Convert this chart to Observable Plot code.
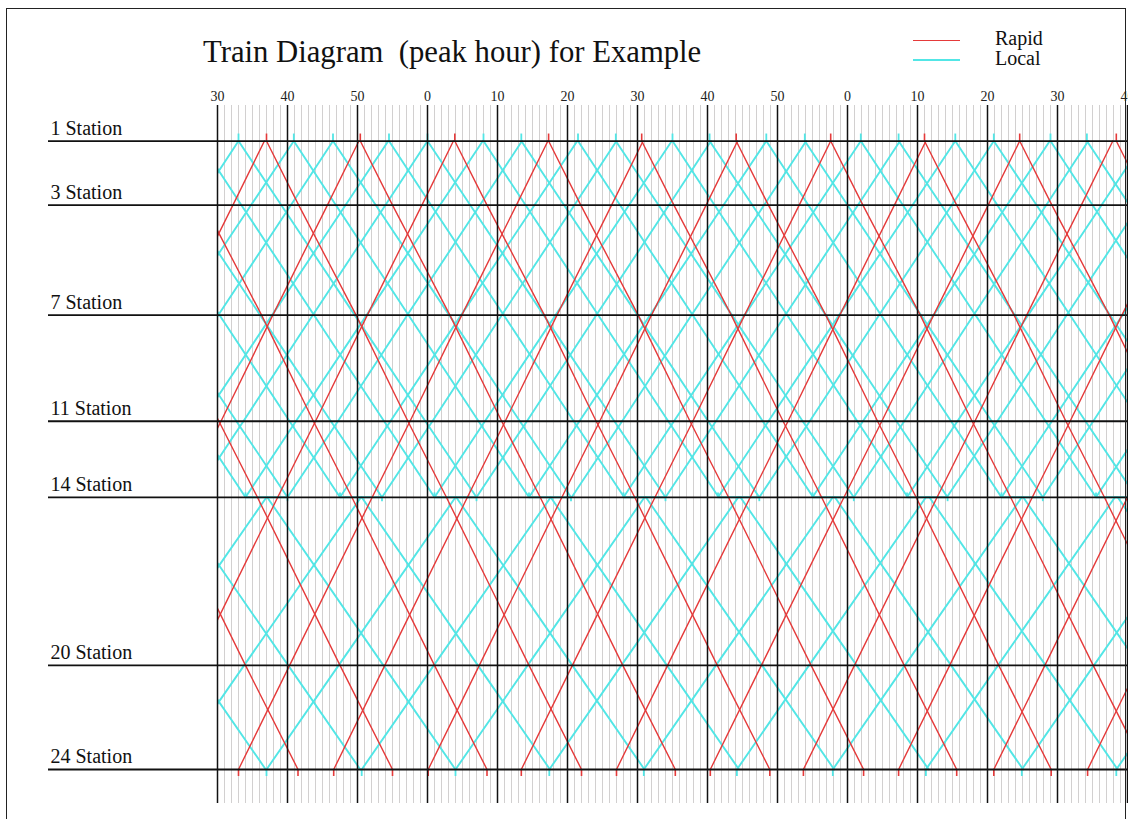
<!DOCTYPE html>
<html>
<head>
<meta charset="utf-8">
<script src="https://cdn.jsdelivr.net/npm/d3@7"></script>
<script src="https://cdn.jsdelivr.net/npm/@observablehq/plot@0.6"></script>
<style>
  html, body { margin:0; padding:0; background:#fff; overflow:hidden; }
  #wrap { position:relative; width:1128px; height:819px; font-family:"Liberation Serif","Times New Roman",serif; color:#111; }
  #header { position:relative; width:1128px; height:75px; }
  #title { position:absolute; left:203px; top:37px; font-size:30.7px; line-height:30px; white-space:pre; }
  .lg-line { position:absolute; left:913px; width:47px; height:0; }
  .lg-text { position:absolute; left:995px; font-size:20px; line-height:20px; }
  #frame { position:absolute; left:6px; top:8px; width:1120px; height:840px; border:1.5px solid #222; box-sizing:border-box; pointer-events:none; }
  #chart svg { display:block; }
</style>
</head>
<body>
<div id="wrap">
  <div id="header">
    <div id="title">Train Diagram  (peak hour) for Example</div>
    <div class="lg-line" style="top:40px;border-top:1.5px solid #e53a3a"></div>
    <div class="lg-text" style="top:28px">Rapid</div>
    <div class="lg-line" style="top:59px;border-top:2px solid #52e6e6"></div>
    <div class="lg-text" style="top:48px">Local</div>
  </div>
  <div id="chart"></div>
  <div id="frame"></div>
</div>
<script>
// ---------- data ----------
const stationNames = ["1 Station", "3 Station", "7 Station", "11 Station", "14 Station", "20 Station", "24 Station"];
const stationKm    = [0, 3.2, 8.7, 14.0, 17.8, 26.2, 31.4];

// time axis: minutes (30 = hh:30 of the first hour)
const majorTicks = [30, 40, 50, 60, 70, 80, 90, 100, 110, 120, 130, 140, 150, 160];
const tickLabels = ["30", "40", "50", "0", "10", "20", "30", "40", "50", "0", "10", "20", "30", "40"];

// Rapid, down (1 -> 24): departure at 1 Station, minutes after departure at each station
const rapidDownDepart = [-3.5, 10.0, 23.5, 37.0, 50.4, 63.9, 77.3, 90.6, 104.1, 117.6, 131.0, 144.6, 158.4];
const rapidDownStops  = [0, 1, 2, 3, 4, 5, 6];
const rapidDownRun    = [0, 4.6, 12.8, 20.2, 25.7, 37.5, 45.0];

// Rapid, up (24 -> 1): departure at 24 Station
const rapidUpDepart = [-7.5, 6.0, 19.5, 33.0, 46.6, 60.1, 73.4, 87.0, 100.4, 113.7, 127.3, 140.9, 154.3];
const rapidUpStops  = [6, 5, 4, 3, 2, 1, 0];
const rapidUpRun    = [0, 7.3, 19.1, 24.5, 31.9, 39.7, 44.2];

// Local through trains 1 -> 24 (stop at 14 Station)
const localThroughDownDepart = [-26.7, -13.2, 0.4, 13.9, 27.4, 40.9, 54.5, 68.0, 81.5, 95.0, 108.4, 121.9, 135.4, 149.0];
const localThroughDownStops  = [0, 1, 2, 3, 4, 4, 5, 6];
const localThroughDownRun    = [0, 6.0, 16.4, 26.4, 33.6, 36.7, 53.3, 63.6];

// Local through trains 24 -> 1
const localThroughUpDepart = [-30.5, -17.0, -3.5, 10.0, 23.5, 37.0, 50.6, 64.0, 77.4, 90.9, 104.2, 117.9, 131.2, 144.9, 158.4];
const localThroughUpStops  = [6, 5, 4, 4, 3, 2, 1, 0];
const localThroughUpRun    = [0, 10.3, 27.0, 30.0, 37.2, 47.1, 57.5, 63.5];

// Local short trains 1 -> 14
const localShortDownDepart = [6.0, 19.5, 33.0, 46.5, 60.0, 73.4, 86.9, 100.3, 113.9, 127.3, 140.9, 154.2];
const localShortDownStops  = [0, 1, 2, 3, 4];
const localShortDownRun    = [0, 6.1, 16.6, 26.7, 34.0];

// Local short trains 14 -> 1
const localShortUpDepart = [7.0, 20.5, 34.0, 47.5, 61.0, 74.5, 88.0, 101.5, 115.0, 128.5, 142.0, 155.5];
const localShortUpStops  = [4, 3, 2, 1, 0];
const localShortUpRun    = [0, 7.2, 17.3, 27.8, 33.9];

const COL_RAPID = "#e53a3a";
const COL_LOCAL = "#52e6e6";

// ---------- build tables ----------
function buildRuns(name, departs, stops, runs) {
  const pts = [];
  departs.forEach((dep, j) => {
    stops.forEach((s, i) => pts.push({id: name + "-" + j, t: dep + runs[i], km: stationKm[s]}));
  });
  return pts;
}
const rapidPts = [
  ...buildRuns("rd", rapidDownDepart, rapidDownStops, rapidDownRun),
  ...buildRuns("ru", rapidUpDepart, rapidUpStops, rapidUpRun)
];
const localPts = [
  ...buildRuns("ltd", localThroughDownDepart, localThroughDownStops, localThroughDownRun),
  ...buildRuns("ltu", localThroughUpDepart, localThroughUpStops, localThroughUpRun),
  ...buildRuns("lsd", localShortDownDepart, localShortDownStops, localShortDownRun),
  ...buildRuns("lsu", localShortUpDepart, localShortUpStops, localShortUpRun)
];
const kmFirst = stationKm[0], kmLast = stationKm[stationKm.length - 1], kmTurn = stationKm[4];
const rapidEnds = [
  ...rapidDownDepart.map(t => ({t, km: kmFirst, len: -0.35})),
  ...rapidUpDepart.map(t => ({t, km: kmLast, len: 0.35})),
  ...rapidDownDepart.map(t => ({t: t + rapidDownRun[rapidDownRun.length - 1], km: kmLast, len: 0.35}))
];
const localEnds = [
  ...localShortDownDepart.map(t => ({t, km: kmFirst, len: -0.35})),
  ...localThroughDownDepart.map(t => ({t, km: kmFirst, len: -0.35})),
  ...localThroughUpDepart.map(t => ({t, km: kmLast, len: 0.35})),
  ...localShortDownDepart.map(t => ({t: t + localShortDownRun[localShortDownRun.length - 1], km: kmTurn, len: 0.22})),
  ...localShortUpDepart.map(t => ({t, km: kmTurn, len: -0.22}))
];
const labelOf = new Map(majorTicks.map((d, i) => [d, tickLabels[i]]));
const minuteGrid = d3.range(30, 161, 1);

const chart = Plot.plot({
  width: 1128,
  height: 744,
  marginLeft: 217,
  marginRight: 1,
  marginTop: 30,
  marginBottom: 16,
  style: {fontFamily: "Liberation Serif, Times New Roman, serif", fontSize: "14px", color: "#222", background: "transparent"},
  x: {domain: [30, 160], axis: "top", ticks: majorTicks, tickFormat: d => labelOf.get(d), tickSize: 0, tickPadding: 5, label: null},
  y: {domain: [-1.775, 33.1], reverse: true, axis: null},
  marks: [
    Plot.ruleX(minuteGrid, {stroke: "#d2d0d0", strokeWidth: 1}),
    Plot.line(localPts, {x: "t", y: "km", z: "id", stroke: COL_LOCAL, strokeWidth: 1.9, clip: true}),
    Plot.ruleX(localEnds, {x: "t", y1: "km", y2: d => d.km + d.len, stroke: COL_LOCAL, strokeWidth: 1.8, clip: true}),
    Plot.line(rapidPts, {x: "t", y: "km", z: "id", stroke: COL_RAPID, strokeWidth: 1.4, clip: true}),
    Plot.ruleX(rapidEnds, {x: "t", y1: "km", y2: d => d.km + d.len, stroke: COL_RAPID, strokeWidth: 1.6, clip: true}),
    Plot.ruleY(stationKm, {stroke: "#111", strokeWidth: 1.8, insetLeft: -169}),
    Plot.ruleX(majorTicks, {stroke: "#111", strokeWidth: 1.5}),
    Plot.text(stationNames, {y: (d, i) => stationKm[i], text: d => d, frameAnchor: "left", textAnchor: "start", lineAnchor: "bottom", dx: -167, dy: -6, fontSize: 20, fill: "#111"})
  ]
});
document.getElementById("chart").appendChild(chart);
</script>
</body>
</html>
